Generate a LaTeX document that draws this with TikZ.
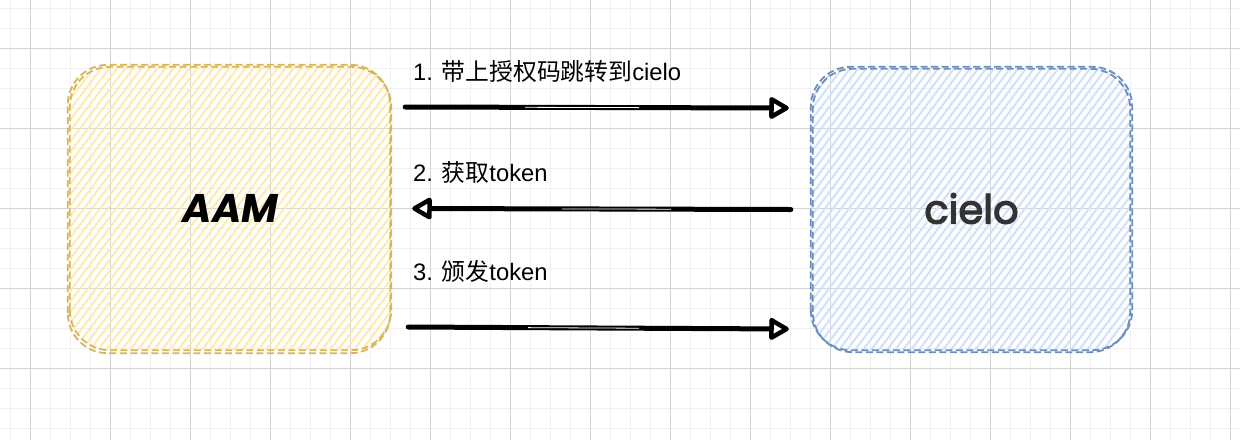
\documentclass[tikz,border=0pt]{standalone}
\usepackage{fontspec}
\setmainfont{Liberation Sans}
\newfontfamily\cjkfont{Noto Sans CJK SC}
\newfontfamily\handfont{Poppins}
\newfontfamily\handmed[FakeBold=3]{Poppins}
\usetikzlibrary{arrows.meta,backgrounds}
\definecolor{yStroke}{HTML}{D6B656}
\definecolor{yFill}{HTML}{FFEAAE}
\definecolor{bStroke}{HTML}{6C8EBF}
\definecolor{bFill}{HTML}{D0E2FB}
\definecolor{gridMinor}{HTML}{F0F0F0}
\definecolor{gridMajor}{HTML}{D4D4D4}
\definecolor{txtDark}{HTML}{333333}
\tikzset{
  boxshape/.style={minimum width=321pt, minimum height=283pt, inner sep=0pt,
    font=\handfont\fontsize{40}{44}\selectfont},
  outlineY/.style={draw=yStroke, line width=1.8pt, dash pattern=on 7pt off 3.5pt, rounded corners=40pt},
  outlineB/.style={draw=bStroke, line width=1.8pt, dash pattern=on 7pt off 3.5pt, rounded corners=40pt},
  hatchY/.style={draw=yFill, line width=2pt},
  hatchB/.style={draw=bFill, line width=2pt},
  arr/.style={line width=5pt, line cap=round, draw=black,
    -{Triangle[length=22pt,width=24pt,line width=4.5pt,fill=white,round]},
    postaction={draw=white, line width=0.8pt, -, shorten <=120pt, shorten >=150pt}},
  lbl/.style={anchor=west, inner sep=0pt, font=\fontsize{23.8}{28}\selectfont, text=black},
}
\begin{document}
\begin{tikzpicture}[x=1pt,y=-1pt]
\useasboundingbox (0,0) rectangle (1240,440);
% boxes
\node[boxshape, text=black] (aam) at (230.5,208.5) {\bfseries\itshape AAM};
\node[boxshape, text=txtDark, font=\handmed\fontsize{40}{44}\selectfont] (cielo) at (971.5,208.5) {cielo};
\draw[outlineY] (aam.south west) rectangle (aam.north east);
\draw[outlineY] ([shift={(-2pt,-3pt)}]aam.south west) rectangle ([shift={(-1pt,2pt)}]aam.north east);
\draw[outlineB] (cielo.south west) rectangle (cielo.north east);
\draw[outlineB] ([shift={(2pt,-2pt)}]cielo.south west) rectangle ([shift={(-2pt,-2pt)}]cielo.north east);
% background: grid and hatching
\begin{scope}[on background layer]
  \fill[white] (0,0) rectangle (1240,440);
  \foreach \i in {0,...,61} \draw[gridMinor, line width=1pt] (10.7+20*\i,0) -- (10.7+20*\i,440);
  \foreach \j in {0,...,21} \draw[gridMinor, line width=1pt] (0,8+20*\j) -- (1240,8+20*\j);
  \foreach \i in {0,...,15} \draw[gridMajor, line width=1pt] (30.7+80*\i,0) -- (30.7+80*\i,440);
  \foreach \j in {0,...,5} \draw[gridMajor, line width=1pt] (0,48+80*\j) -- (1240,48+80*\j);
  \begin{scope}
    \clip[rounded corners=40pt] (aam.south west) rectangle (aam.north east);
    \foreach \k in {-300,-292,...,340} \draw[hatchY] ([xshift=\k pt]aam.south west) -- ++(240,-320);
  \end{scope}
  \begin{scope}
    \clip[rounded corners=40pt] (cielo.south west) rectangle (cielo.north east);
    \foreach \k in {-300,-292,...,340} \draw[hatchB] ([xshift=\k pt]cielo.south west) -- ++(240,-320);
  \end{scope}
\end{scope}
% connectors
\draw[arr] ([xshift=14pt,yshift=101.5pt]aam.east) -- ([xshift=-22pt,yshift=100.5pt]cielo.west);
\draw[arr] ([xshift=-20pt,yshift=-1pt]cielo.west) -- ([xshift=21pt,yshift=0pt]aam.east);
\draw[arr] ([xshift=17pt,yshift=-118.5pt]aam.east) -- ([xshift=-22pt,yshift=-120.5pt]cielo.west);
% labels
\node[lbl] (l1) at (413,71) {1. {\cjkfont 带上授权码跳转到}cielo};
\node[lbl] (l2) at (413,172) {2. {\cjkfont 获取}token};
\node[lbl] (l3) at (413,271) {3. {\cjkfont 颁发}token};
\end{tikzpicture}
\end{document}
